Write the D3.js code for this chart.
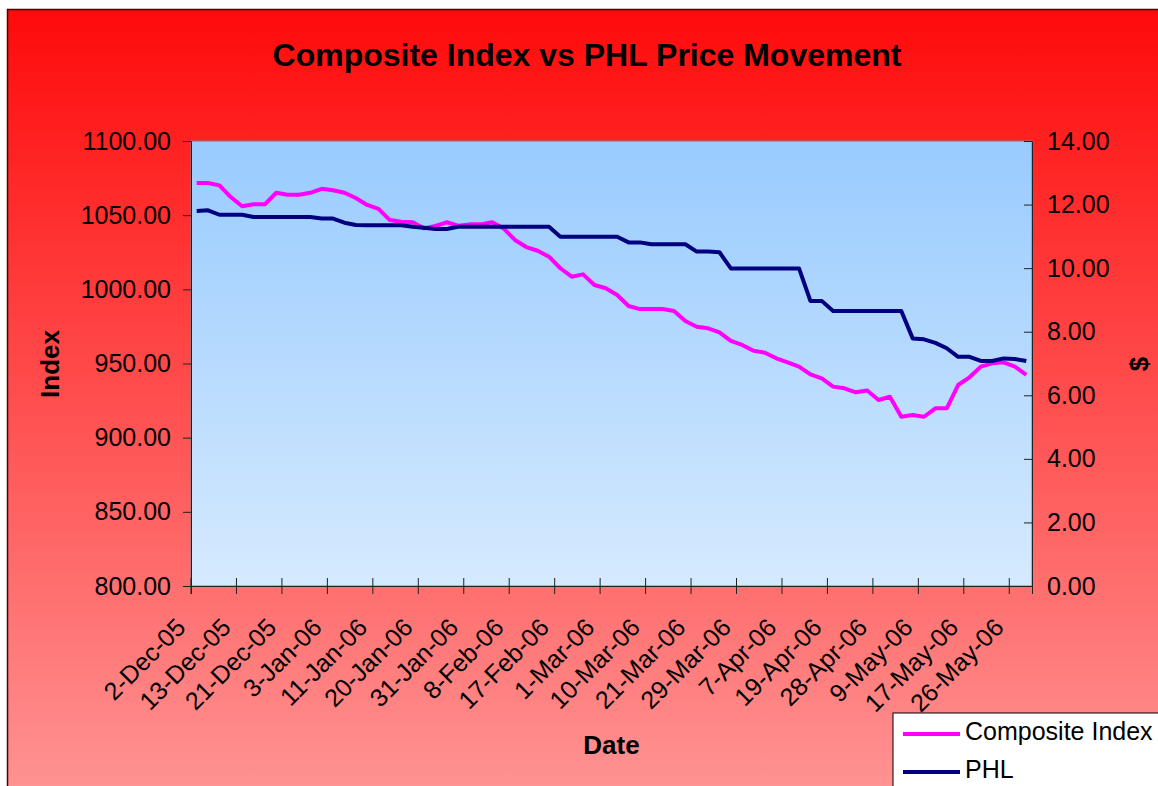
<!DOCTYPE html>
<html lang="en">
<head>
  <meta charset="UTF-8">
  <title>Composite Index vs PHL Price Movement</title>
  <script src="https://d3js.org/d3.v7.min.js"></script>
  <style>
    body { margin: 0; background: #fff; }
    svg { display: block; font-family: Arial, "Liberation Sans", sans-serif; }
    .axis text { font-size: 25px; fill: #000; }
    .axis path, .axis line { stroke: #222; }
    .title { font-size: 32px; font-weight: bold; }
    .axis-title { font-size: 26px; font-weight: bold; }
    .legend text { font-size: 25px; }
  </style>
</head>
<body>
  <svg width="1158" height="786"></svg>

  <script>
    // labels shown every 4th category
    const tickLabels = ["2-Dec-05", "13-Dec-05", "21-Dec-05", "3-Jan-06", "11-Jan-06", "20-Jan-06",
      "31-Jan-06", "8-Feb-06", "17-Feb-06", "1-Mar-06", "10-Mar-06", "21-Mar-06", "29-Mar-06",
      "7-Apr-06", "19-Apr-06", "28-Apr-06", "9-May-06", "17-May-06", "26-May-06"];
    const labelEvery = 4;

    const compositeIndex = [
      1071.7, 1071.7, 1070.1, 1062.2, 1056.0, 1057.3, 1057.3, 1065.1, 1063.8, 1063.8,
      1065.1, 1067.8, 1066.8, 1065.1, 1061.6, 1056.9, 1054.2, 1046.7, 1045.6, 1045.2,
      1041.1, 1042.7, 1045.2, 1042.9, 1043.8, 1043.8, 1045.2, 1041.1, 1033.3, 1028.5,
      1026.0, 1022.0, 1014.2, 1008.5, 1010.1, 1002.9, 1000.7, 996.2, 988.8, 986.7,
      986.7, 986.7, 985.4, 978.6, 974.8, 973.7, 971.0, 965.2, 962.5, 958.6,
      957.3, 953.5, 950.8, 947.9, 942.7, 940.0, 934.4, 933.3, 930.6, 931.8,
      925.4, 927.6, 914.1, 915.3, 914.1, 919.8, 919.8, 935.5, 940.7, 947.9,
      950.1, 950.8, 947.9, 942.3
    ];

    const phl = [
      11.80, 11.82, 11.68, 11.68, 11.68, 11.61, 11.61, 11.61, 11.61, 11.61,
      11.61, 11.56, 11.56, 11.43, 11.36, 11.35, 11.35, 11.35, 11.35, 11.30,
      11.27, 11.23, 11.23, 11.30, 11.30, 11.30, 11.30, 11.30, 11.30, 11.30,
      11.30, 11.30, 10.99, 10.99, 10.99, 10.99, 10.99, 10.99, 10.81, 10.81,
      10.75, 10.75, 10.75, 10.75, 10.52, 10.52, 10.50, 9.99, 9.99, 9.99,
      9.99, 9.99, 9.99, 9.99, 8.97, 8.97, 8.65, 8.65, 8.65, 8.65,
      8.65, 8.65, 8.65, 7.79, 7.76, 7.65, 7.48, 7.21, 7.21, 7.08,
      7.08, 7.16, 7.14, 7.08
    ];

    const indexTicks = [800, 850, 900, 950, 1000, 1050, 1100];
    const dollarTicks = [0, 2, 4, 6, 8, 10, 12, 14];

    const svg = d3.select("svg");
    const plot = { left: 191, right: 1032, top: 141, bottom: 586 };

    const defs = svg.append("defs");
    const bgGrad = defs.append("linearGradient").attr("id", "bg")
      .attr("x1", 0).attr("y1", 0).attr("x2", 0).attr("y2", 1);
    bgGrad.append("stop").attr("offset", "0%").attr("stop-color", "#ff0a0a");
    bgGrad.append("stop").attr("offset", "100%").attr("stop-color", "#ff9696");
    const plotGrad = defs.append("linearGradient").attr("id", "plotbg")
      .attr("x1", 0).attr("y1", 0).attr("x2", 0).attr("y2", 1);
    plotGrad.append("stop").attr("offset", "0%").attr("stop-color", "#99cbff");
    plotGrad.append("stop").attr("offset", "100%").attr("stop-color", "#d5eafe");

    // chart area
    svg.append("rect")
      .attr("x", 7.5).attr("y", 9.5).attr("width", 1170).attr("height", 800)
      .attr("fill", "url(#bg)").attr("stroke", "#4a0000").attr("stroke-width", 1.5);

    // plot area
    svg.append("rect")
      .attr("x", plot.left).attr("y", plot.top)
      .attr("width", plot.right - plot.left).attr("height", plot.bottom - plot.top)
      .attr("fill", "url(#plotbg)").attr("stroke", "#808080");

    const x = d3.scaleBand()
      .domain(d3.range(compositeIndex.length))
      .range([plot.left, plot.right]);

    const yL = d3.scaleLinear().domain([800, 1100]).range([plot.bottom, plot.top]);
    const yR = d3.scaleLinear().domain([0, 14]).range([plot.bottom, plot.top]);

    // x axis: tick marks at group boundaries, crossing the axis
    const xAxis = svg.append("g")
      .attr("class", "axis")
      .attr("transform", `translate(${-x.bandwidth() / 2},${plot.bottom})`)
      .call(d3.axisBottom(x)
        .tickValues(d3.range(0, compositeIndex.length, labelEvery))
        .tickFormat(i => tickLabels[i / labelEvery])
        .tickSizeOuter(0)
        .tickSize(8));
    xAxis.select(".domain").attr("transform", `translate(${x.bandwidth() / 2},0)`);
    xAxis.selectAll(".tick line").attr("y1", -8).attr("y2", 8);
    xAxis.selectAll(".tick text")
      .attr("x", 0).attr("y", 0).attr("dy", 0)
      .attr("text-anchor", "end")
      .attr("transform", "translate(-4,43) rotate(-45)");

    svg.append("g")
      .attr("class", "axis")
      .attr("transform", `translate(${plot.left},0)`)
      .call(d3.axisLeft(yL).tickValues(indexTicks).tickFormat(d3.format(".2f"))
        .tickSizeOuter(0).tickSize(8).tickPadding(12));

    svg.append("g")
      .attr("class", "axis")
      .attr("transform", `translate(${plot.right},0)`)
      .call(d3.axisRight(yR).tickValues(dollarTicks).tickFormat(d3.format(".2f"))
        .tickSizeOuter(0).tickSizeInner(-8).tickPadding(15));

    const cx = (d, i) => x(i) + x.bandwidth() / 2;

    svg.append("path")
      .datum(compositeIndex)
      .attr("fill", "none").attr("stroke", "#ff00ff").attr("stroke-width", 4)
      .attr("stroke-linejoin", "round")
      .attr("d", d3.line().x(cx).y(d => yL(d)));

    svg.append("path")
      .datum(phl)
      .attr("fill", "none").attr("stroke", "#000080").attr("stroke-width", 4)
      .attr("stroke-linejoin", "round")
      .attr("d", d3.line().x(cx).y(d => yR(d)));

    svg.append("text").attr("class", "title")
      .attr("x", 587).attr("y", 66).attr("text-anchor", "middle")
      .text("Composite Index vs PHL Price Movement");

    svg.append("text").attr("class", "axis-title")
      .attr("transform", "translate(59,364) rotate(-90)").attr("text-anchor", "middle")
      .text("Index");

    svg.append("text").attr("class", "axis-title")
      .attr("x", (plot.left + plot.right) / 2).attr("y", 754).attr("text-anchor", "middle")
      .text("Date");

    svg.append("text").attr("class", "axis-title")
      .attr("transform", "translate(1148,364) rotate(-90)").attr("text-anchor", "middle")
      .text("$");

    // legend
    const legend = svg.append("g").attr("class", "legend");
    legend.append("rect")
      .attr("x", 893).attr("y", 713).attr("width", 300).attr("height", 100)
      .attr("fill", "#fff").attr("stroke", "#000");
    const items = [
      { name: "Composite Index", color: "#ff00ff", y: 734 },
      { name: "PHL", color: "#000080", y: 772 }
    ];
    items.forEach(it => {
      legend.append("line")
        .attr("x1", 903).attr("x2", 960).attr("y1", it.y).attr("y2", it.y)
        .attr("stroke", it.color).attr("stroke-width", 4);
      legend.append("text")
        .attr("x", 965).attr("y", it.y + 5.5)
        .text(it.name);
    });
  </script>
</body>
</html>
